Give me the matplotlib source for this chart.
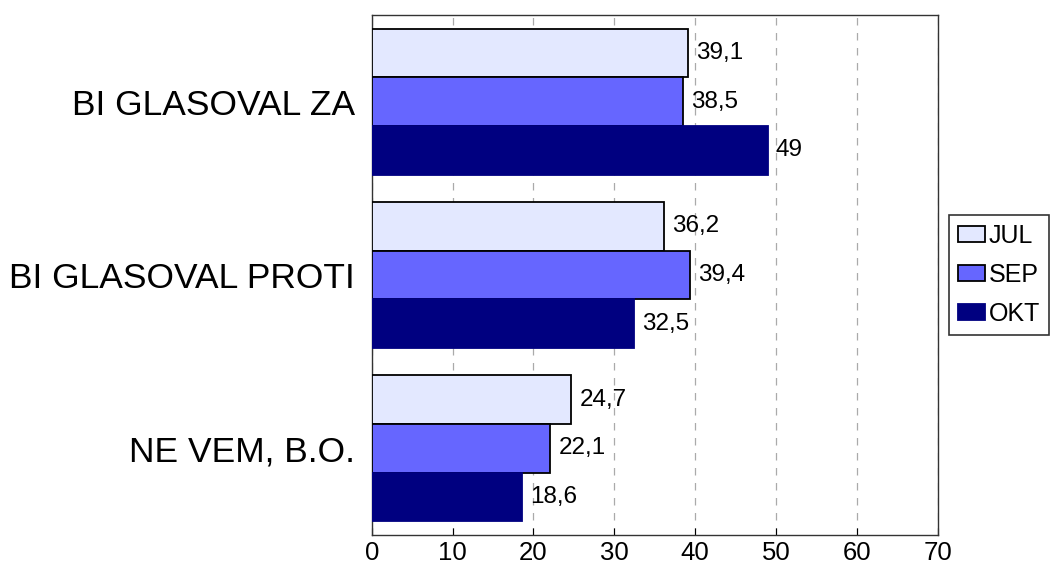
import numpy as np
import matplotlib.pyplot as plt

plt.rcParams['font.family'] = ['Liberation Sans', 'DejaVu Sans']

categories = ['BI GLASOVAL ZA', 'BI GLASOVAL PROTI', 'NE VEM, B.O.']
series = ['JUL', 'SEP', 'OKT']
jul = [39.1, 36.2, 24.7]
sep = [38.5, 39.4, 22.1]
okt = [49, 32.5, 18.6]
colors = ['#E3E8FF', '#6666FF', '#000080']
edges = ['black', 'black', '#000080']

fig = plt.figure(figsize=(10.5, 5.7), dpi=100)
ax = fig.add_axes([0.354, 0.0614, 0.539, 0.912])

y = np.arange(len(categories))
h = 0.281
for i, (name, vals) in enumerate(zip(series, [jul, sep, okt])):
    pos = y + (i - 1) * h
    ax.barh(pos, vals, height=h, color=colors[i], edgecolor=edges[i],
            linewidth=1.3, label=name, zorder=3)
    for p, v in zip(pos, vals):
        txt = ('%g' % v).replace('.', ',')
        ax.text(v + 1.0, p, txt, va='center', ha='left', fontsize=17.5, zorder=4)

ax.set_xlim(0, 70)
ax.set_ylim(2.5, -0.5)
ax.set_xticks(range(0, 71, 10))
ax.tick_params(axis='x', direction='in', length=5, labelsize=18.5, pad=4)
ax.set_yticks(y)
ax.set_yticklabels(categories, fontsize=25.5)
ax.tick_params(axis='y', length=0, pad=12)
ax.grid(axis='x', linestyle=(0, (6, 6)), color='#AAAAAA', linewidth=0.9, zorder=0)
for s in ax.spines.values():
    s.set_linewidth(1.0)
    s.set_color('#333333')

leg = ax.legend(loc='center left', bbox_to_anchor=(1.02, 0.5), fontsize=18,
                frameon=True, fancybox=False, edgecolor='black',
                handlelength=1.1, handleheight=0.6, handletextpad=0.15,
                borderpad=0.35, labelspacing=0.6, borderaxespad=0)
leg.get_frame().set_linewidth(1.2)

fig.savefig('out.png', dpi=100)
